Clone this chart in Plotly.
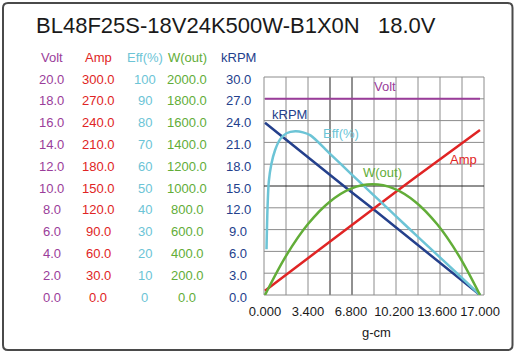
import plotly.graph_objects as go

title_text = "BL48F25S-18V24K500W-B1X0N\u00a0\u00a0\u00a018.0V"
x_label = "g-cm"

torque = [0.0, 1.7, 3.4, 5.1, 6.8, 8.5, 10.2, 11.9, 13.6, 15.3, 17.0]
volt = [18.0, 18.0, 18.0, 18.0, 18.0, 18.0, 18.0, 18.0, 18.0, 18.0, 18.0]
amp = [6.0, 28.5, 51.0, 73.0, 95.5, 118.0, 140.0, 162.0, 184.0, 205.5, 227.0]
krpm = [23.7, 21.3, 19.0, 16.6, 14.2, 11.9, 9.5, 7.1, 4.7, 2.4, 0.0]
wout = [0, 366, 651, 854, 976, 1015, 976, 854, 651, 366, 0]

eff_torque = [0.12, 0.2, 0.3, 0.5, 0.8, 1.2, 1.7, 2.4, 3.0, 3.6, 5.1, 6.8, 8.5, 10.2, 11.9, 13.6, 15.3, 17.0]
eff = [21, 40, 52, 60, 66.5, 71.5, 74.2, 75.1, 74.6, 73.2, 65.0, 55.6, 46.3, 37.0, 27.7, 18.5, 9.3, 0.0]

x_ticks = [0.0, 3.4, 6.8, 10.2, 13.6, 17.0]

volt_ticks = [0, 2, 4, 6, 8, 10, 12, 14, 16, 18, 20]
amp_ticks = [0, 30, 60, 90, 120, 150, 180, 210, 240, 270, 300]
eff_ticks = [0, 10, 20, 30, 40, 50, 60, 70, 80, 90, 100]
w_ticks = [0, 200, 400, 600, 800, 1000, 1200, 1400, 1600, 1800, 2000]
krpm_ticks = [0, 3, 6, 9, 12, 15, 18, 21, 24, 27, 30]

C_VOLT = "#9a3d9a"
C_AMP = "#e02424"
C_EFF = "#6cc4d6"
C_W = "#62ad38"
C_RPM = "#24408c"

W, H = 516, 355
L, R, T, B = 264, 32, 77, 60
PW, PH = W - L - R, H - T - B


def px(x):
    return (x - L) / PW


def py(y):
    return (H - B - y) / PH


fig = go.Figure()
fig.add_trace(go.Scatter(x=torque, y=volt, yaxis="y2", mode="lines",
                         line=dict(color=C_VOLT, width=2), hoverinfo="skip"))
fig.add_trace(go.Scatter(x=torque, y=wout, yaxis="y5", mode="lines",
                         line=dict(color=C_W, width=2.5, shape="spline", smoothing=1.0), hoverinfo="skip"))
fig.add_trace(go.Scatter(x=eff_torque, y=eff, yaxis="y4", mode="lines",
                         line=dict(color=C_EFF, width=2.5, shape="spline", smoothing=0.8), hoverinfo="skip"))
fig.add_trace(go.Scatter(x=torque, y=krpm, yaxis="y", mode="lines",
                         line=dict(color=C_RPM, width=2.5), hoverinfo="skip"))
fig.add_trace(go.Scatter(x=torque, y=amp, yaxis="y3", mode="lines",
                         line=dict(color=C_AMP, width=2.5), hoverinfo="skip"))

# x-range so that 0 sits at ~265px and 17 at ~480px
ppu = 215 / 17.0
x0 = -1.0 / ppu
x1 = x0 + PW / ppu

shapes = []
for i in range(11):
    dark = i in (3, 4)
    shapes.append(dict(type="line", xref="paper", yref="paper", x0=i / 10, x1=i / 10, y0=0, y1=1,
                       line=dict(color="#222222" if dark else "#8c8c8c", width=1), layer="below"))
for i in range(11):
    dark = i == 5
    shapes.append(dict(type="line", xref="paper", yref="paper", y0=i / 10, y1=i / 10, x0=0, x1=1,
                       line=dict(color="#222222" if dark else "#8c8c8c", width=1), layer="below"))

# rounded outer border
bx0, bx1, by0, by1, r = 3, 512.5, 3, 350, 5
path = (f"M {px(bx0 + r)},{py(by0)} L {px(bx1 - r)},{py(by0)} "
        f"Q {px(bx1)},{py(by0)} {px(bx1)},{py(by0 + r)} L {px(bx1)},{py(by1 - r)} "
        f"Q {px(bx1)},{py(by1)} {px(bx1 - r)},{py(by1)} L {px(bx0 + r)},{py(by1)} "
        f"Q {px(bx0)},{py(by1)} {px(bx0)},{py(by1 - r)} L {px(bx0)},{py(by0 + r)} "
        f"Q {px(bx0)},{py(by0)} {px(bx0 + r)},{py(by0)} Z")
shapes.append(dict(type="path", xref="paper", yref="paper", path=path,
                   line=dict(color="#4a4a4a", width=2)))

FONT = "Liberation Sans, Arial, sans-serif"
ann = []
ann.append(dict(text=title_text, xref="paper", yref="paper", x=px(34), y=py(26),
                xanchor="left", yanchor="middle", showarrow=False,
                font=dict(family=FONT, size=22, color="#1a1a1a")))

cols = [
    ("Volt", C_VOLT, 51.5, "y2", volt_ticks, "{:.1f}"),
    ("Amp", C_AMP, 98, "y3", amp_ticks, "{:.1f}"),
    ("Eff(%)", C_EFF, 144.5, "y4", eff_ticks, "{:d}"),
    ("W(out)", C_W, 187, "y5", w_ticks, "{:.1f}"),
    ("kRPM", C_RPM, 238, "y", krpm_ticks, "{:.1f}"),
]
for name, col, cx, yref, ticks, fmt in cols:
    ann.append(dict(text=name, xref="paper", yref="paper", x=px(cx), y=py(57),
                    xanchor="center", yanchor="middle", showarrow=False,
                    font=dict(family=FONT, size=13, color=col)))
    for v in ticks:
        ann.append(dict(text=fmt.format(v), xref="paper", yref=yref, x=px(cx), y=v,
                        xanchor="center", yanchor="middle", yshift=-2, showarrow=False,
                        font=dict(family=FONT, size=13, color=col)))

labels = [("Volt", C_VOLT, 385, 87), ("kRPM", C_RPM, 289, 114), ("Eff(%)", C_EFF, 341, 133),
          ("W(out)", C_W, 382, 172), ("Amp", C_AMP, 463, 159)]
for t, col, lx, ly in labels:
    ann.append(dict(text=t, xref="paper", yref="paper", x=px(lx), y=py(ly),
                    xanchor="center", yanchor="middle", showarrow=False,
                    font=dict(family=FONT, size=13, color=col)))

ann.append(dict(text=x_label, xref="paper", yref="paper", x=px(376), y=py(332),
                xanchor="center", yanchor="middle", showarrow=False,
                font=dict(family=FONT, size=13, color="#1a1a1a")))

fig.update_layout(
    width=W, height=H, margin=dict(l=L, r=R, t=T, b=B),
    paper_bgcolor="white", plot_bgcolor="white", showlegend=False,
    xaxis=dict(range=[x0, x1], tickvals=x_ticks, ticktext=[f"{v:.3f}" for v in x_ticks],
               showgrid=False, zeroline=False, showline=False, ticks="outside", ticklen=4,
               tickcolor="rgba(0,0,0,0)", tickfont=dict(family=FONT, size=13, color="#1a1a1a")),
    yaxis=dict(range=[0, 30], visible=False, showgrid=False, zeroline=False),
    yaxis2=dict(range=[0, 20], overlaying="y", visible=False),
    yaxis3=dict(range=[0, 300], overlaying="y", visible=False),
    yaxis4=dict(range=[0, 100], overlaying="y", visible=False),
    yaxis5=dict(range=[0, 2000], overlaying="y", visible=False),
    shapes=shapes, annotations=ann,
)

fig.write_html("out.html", config={"displayModeBar": False, "staticPlot": True},
               post_script="document.body.style.margin='0';document.body.style.padding='0';")
